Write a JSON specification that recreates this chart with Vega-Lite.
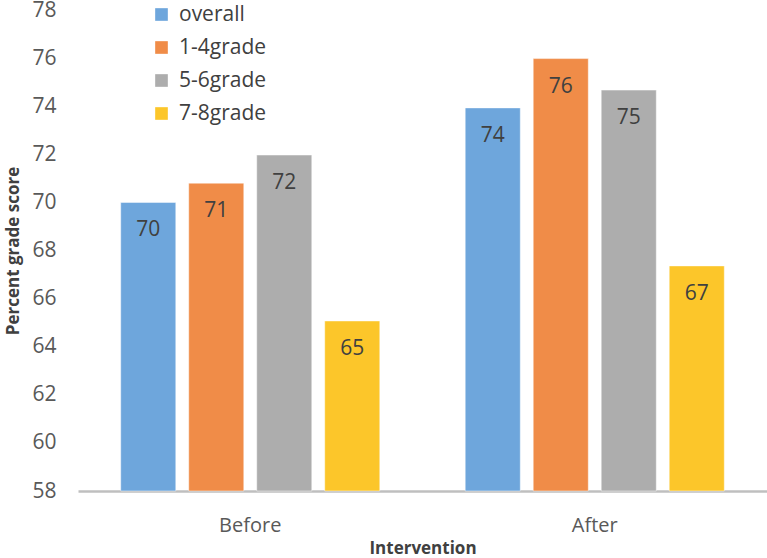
{
  "$schema": "https://vega.github.io/schema/vega-lite/v6.json",
  "width": 689,
  "height": 481,
  "autosize": {"type": "none"},
  "padding": {"left": 78, "top": 10, "right": 0, "bottom": 67},
  "background": "white",
  "config": {
    "view": {"stroke": null},
    "font": "Open Sans",
    "axis": {"labelColor": "#595959", "titleColor": "#404040", "grid": false, "ticks": false}
  },
  "data": {
    "values": [
      {"phase": "Before", "group": "overall", "score": 70.0},
      {"phase": "Before", "group": "1-4grade", "score": 70.8},
      {"phase": "Before", "group": "5-6grade", "score": 71.97},
      {"phase": "Before", "group": "7-8grade", "score": 65.07},
      {"phase": "After", "group": "overall", "score": 73.93},
      {"phase": "After", "group": "1-4grade", "score": 75.98},
      {"phase": "After", "group": "5-6grade", "score": 74.67},
      {"phase": "After", "group": "7-8grade", "score": 67.36}
    ]
  },
  "encoding": {
    "x": {
      "field": "phase", "type": "nominal", "sort": ["Before", "After"],
      "scale": {"paddingInner": 0, "paddingOuter": 0},
      "axis": {
        "title": "Intervention", "labelAngle": 0, "labelFontSize": 20, "labelPadding": 24,
        "titleFontSize": 17, "titleFontWeight": "bold", "titlePadding": 5,
        "domainColor": "#bfbfbf", "domainWidth": 2.5
      }
    },
    "xOffset": {
      "field": "group", "type": "nominal", "sort": ["overall", "1-4grade", "5-6grade", "7-8grade"],
      "scale": {"paddingInner": 0.19, "paddingOuter": 0.628}
    },
    "y": {
      "field": "score", "type": "quantitative",
      "scale": {"domain": [58, 78], "zero": false, "nice": false},
      "axis": {
        "title": "Percent grade score", "values": [58, 60, 62, 64, 66, 68, 70, 72, 74, 76, 78],
        "labelFontSize": 21, "labelPadding": 22, "domain": false,
        "titleFontSize": 17, "titleFontWeight": "bold", "titlePadding": 9
      }
    }
  },
  "layer": [
    {
      "mark": {"type": "bar", "stroke": "white", "strokeWidth": 0.8, "strokeOpacity": 0.6},
      "encoding": {
        "y2": {"datum": 58},
        "color": {
          "field": "group", "type": "nominal", "sort": ["overall", "1-4grade", "5-6grade", "7-8grade"],
          "scale": {"range": ["#6ea6dc", "#f08c48", "#adadad", "#fcc62a"]},
          "legend": {
            "title": null, "orient": "none", "legendX": 73, "legendY": -6,
            "symbolType": "square", "symbolSize": 160, "symbolStrokeWidth": 0,
            "labelFontSize": 21, "labelColor": "#404040", "rowPadding": 11, "labelOffset": 7
          }
        }
      }
    },
    {
      "mark": {"type": "text", "dy": 28, "baseline": "middle", "fontSize": 21, "color": "#404040"},
      "encoding": {
        "text": {"field": "score", "type": "quantitative", "format": ".0f"}
      }
    }
  ]
}
